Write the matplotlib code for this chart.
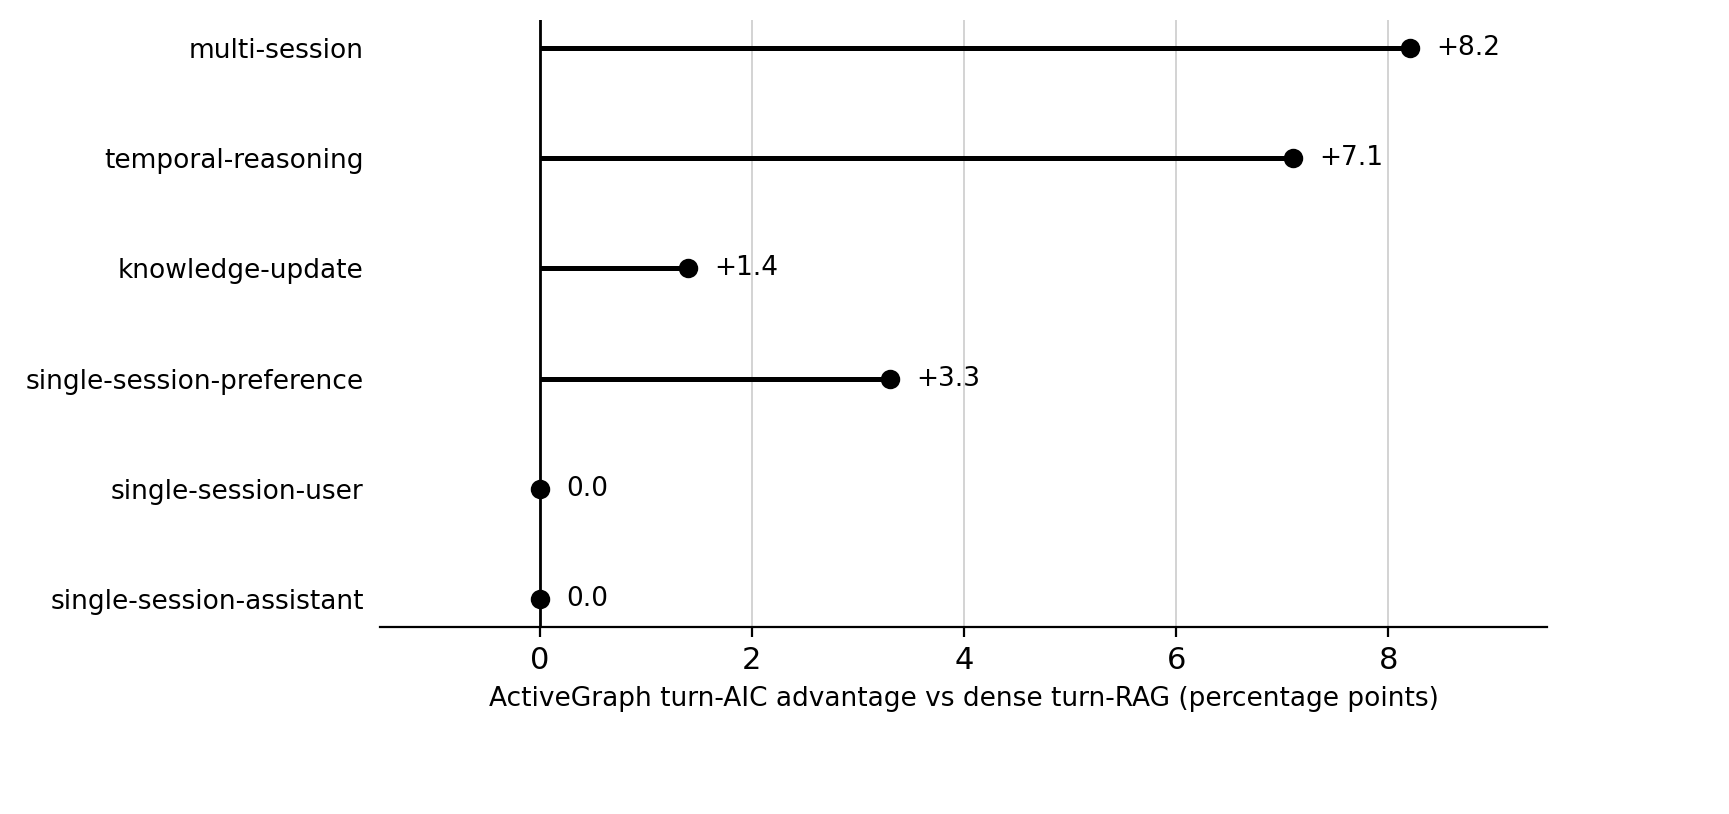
import matplotlib
matplotlib.use('Agg')
import matplotlib.pyplot as plt

categories = ['multi-session', 'temporal-reasoning', 'knowledge-update',
              'single-session-preference', 'single-session-user', 'single-session-assistant']
advantage = [8.2, 7.1, 1.4, 3.3, 0.0, 0.0]

fig = plt.figure(figsize=(8.645, 4.07), dpi=200)
ax = fig.add_axes([0.22, 0.23, 0.675, 0.745])

ypos = list(range(len(categories)))[::-1]
for y, v in zip(ypos, advantage):
    ax.hlines(y, 0, v, color='black', lw=1.8)
    ax.plot(v, y, 'o', color='black', ms=6, zorder=3)
    lab = f'+{v:.1f}' if v > 0 else f'{v:.1f}'
    ax.text(v + 0.25, y, lab, va='center', ha='left', fontsize=9.5)

ax.axvline(0, color='black', lw=1)
ax.set_xlim(-1.5, 9.5)
ax.set_ylim(-0.25, 5.25)
ax.set_yticks(ypos)
ax.set_yticklabels(categories, fontsize=9.5)
ax.set_xticks([0, 2, 4, 6, 8])
ax.tick_params(axis='x', labelsize=11)
ax.tick_params(axis='y', length=0, pad=6)
ax.grid(axis='x', color='#cccccc', lw=0.6)
ax.set_axisbelow(True)
for s in ['top', 'right', 'left']:
    ax.spines[s].set_visible(False)
ax.set_xlabel('ActiveGraph turn-AIC advantage vs dense turn-RAG (percentage points)', fontsize=9.5)

fig.savefig('out.png', dpi=200)
